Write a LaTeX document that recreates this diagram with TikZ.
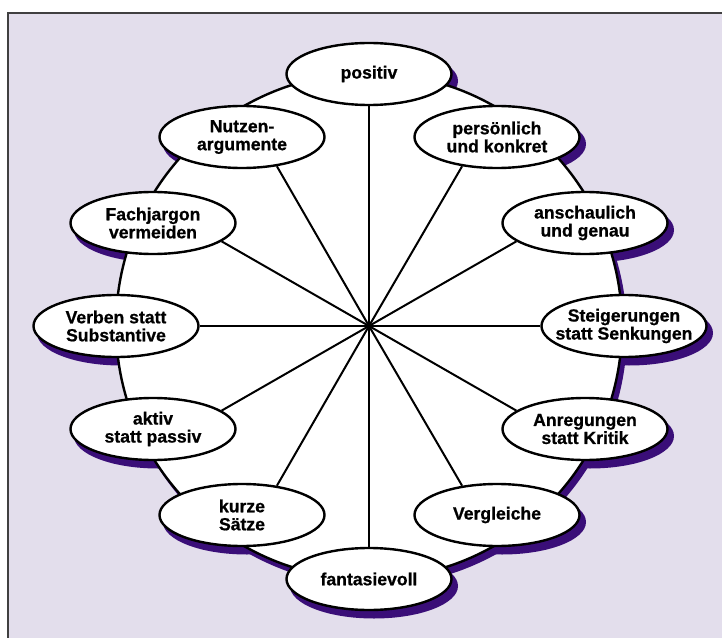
\documentclass[tikz,border=0pt]{standalone}
\usepackage{fontspec}
\setmainfont{Liberation Sans}[BoldFeatures={FakeBold=0.8}]
\usetikzlibrary{shapes.geometric,backgrounds}
\definecolor{lila}{HTML}{E3DEEC}
\definecolor{schatten}{HTML}{3A0E78}
\begin{document}
\begin{tikzpicture}[x=1pt, y=1pt,
    bub/.style={ellipse, draw, line width=2.4pt, fill=white,
        minimum width=165pt, minimum height=62pt,
        inner xsep=-24pt, inner ysep=0pt, align=center,
        font=\fontsize{17.6}{18}\selectfont\bfseries},
    spoke/.style={line width=2pt}]
    \useasboundingbox (-369,-311) rectangle (353,326);
    \coordinate (c) at (0,0);
    % the twelve rules round the wheel
    \node (pos)  at (0,252)     [bub] {positiv};
    \node (pers) at (128,189)   [bub] {persönlich\\und konkret};
    \node (ansc) at (216,103)   [bub] {anschaulich\\und genau};
    \node (steig) at (255,0)    [bub] {Steigerungen\\statt Senkungen};
    \node (anr)  at (216,-103)  [bub] {Anregungen\\statt Kritik};
    \node (verg) at (128,-189)  [bub] {Vergleiche};
    \node (fant) at (0,-253)    [bub] {fantasievoll};
    \node (kurz) at (-127,-189) [bub] {kurze\\Sätze};
    \node (akt)  at (-216,-103) [bub] {aktiv\\statt passiv};
    \node (verb) at (-253,0)    [bub] {Verben statt\\Substantive};
    \node (fach) at (-216,103)  [bub] {Fachjargon\\vermeiden};
    \node (nutz) at (-127,189)  [bub] {Nutzen-\\argumente};
    \begin{scope}[on background layer]
        \fill[white] (-369,-311) rectangle (353,326);
        \draw[fill=lila, draw=black!75, line width=1.3pt] (-361,313) rectangle (370,-330);
        \fill[schatten] ([shift={(4,-6)}]c) circle (254);
        \foreach \n in {pos,pers,ansc,steig,anr,verg,fant,kurz,akt,verb,fach,nutz}
            \fill[schatten] ([shift={(5,-7)}]\n.center) ellipse (84 and 32.5);
        \draw[fill=white, line width=2.4pt] (c) circle (253);
        % spokes every 30 degrees
        \foreach \n/\a in {pos/-90,pers/-140,ansc/-165,steig/180,anr/165,verg/140,
                fant/90,kurz/40,akt/15,verb/0,fach/-15,nutz/-40}
            \draw[spoke] (c) -- (\n.\a);
    \end{scope}
\end{tikzpicture}
\end{document}
